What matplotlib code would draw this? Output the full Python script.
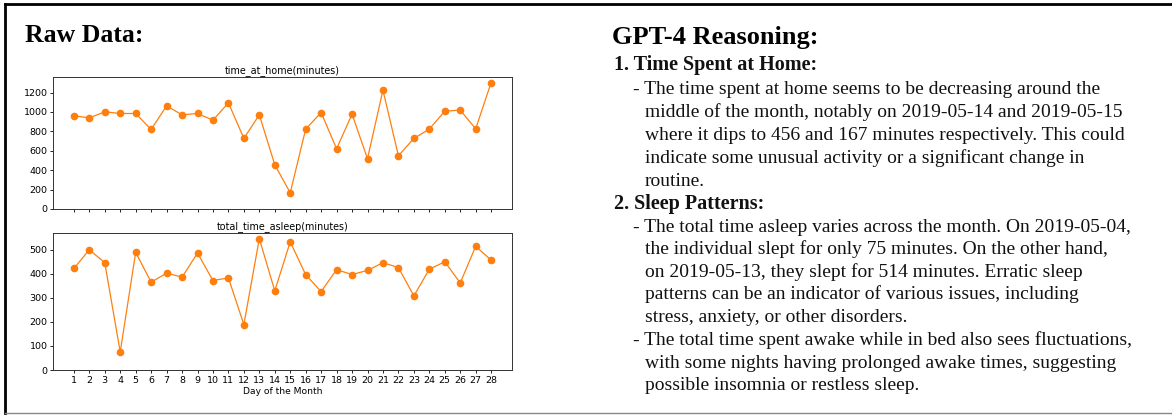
import numpy as np
import matplotlib
matplotlib.use("Agg")
from matplotlib import pyplot as plt
from matplotlib.lines import Line2D

# données
days = list(range(1, 29))
time_at_home = [960, 939, 1001, 984, 984, 819, 1063, 970, 984, 915,
                1094, 727, 970, 456, 167, 823, 994, 621, 977, 518,
                1224, 549, 727, 823, 1008, 1018, 826, 1303]
time_asleep = [422, 500, 446, 75, 489, 365, 403, 386, 486, 372,
               383, 189, 546, 329, 533, 396, 326, 417, 397, 414,
               446, 426, 308, 419, 450, 362, 514, 457]

header_left = "Raw Data:"
header_right = "GPT-4 Reasoning:"
# (texte, gras, indentation en px, baseline en px)
reasoning = [
    ("1. Time Spent at Home:", True, 614, 70),
    ("- The time spent at home seems to be decreasing around the", False, 633, 94),
    ("middle of the month, notably on 2019-05-14 and 2019-05-15", False, 645, 117),
    ("where it dips to 456 and 167 minutes respectively. This could", False, 645, 140),
    ("indicate some unusual activity or a significant change in", False, 645, 163),
    ("routine.", False, 645, 186),
    ("2. Sleep Patterns:", True, 614, 209),
    ("- The total time asleep varies across the month. On 2019-05-04,", False, 633, 232),
    ("the individual slept for only 75 minutes. On the other hand,", False, 645, 254),
    ("on 2019-05-13, they slept for 514 minutes. Erratic sleep", False, 645, 277),
    ("patterns can be an indicator of various issues, including", False, 645, 299),
    ("stress, anxiety, or other disorders.", False, 645, 322),
    ("- The total time spent awake while in bed also sees fluctuations,", False, 633, 345),
    ("with some nights having prolonged awake times, suggesting", False, 645, 368),
    ("possible insomnia or restless sleep.", False, 645, 390),
]

W, H = 1172, 417
fig = plt.figure(figsize=(W / 100, H / 100), dpi=100)
fig.patch.set_facecolor("white")

def px(x0, top, x1, bottom):
    return [x0 / W, (H - bottom) / H, (x1 - x0) / W, (bottom - top) / H]

orange = "#ff7f0e"
ax1 = fig.add_axes(px(53, 77, 512, 209))
ax2 = fig.add_axes(px(53, 233, 512, 370), sharex=ax1)

for ax, vals, title in [(ax1, time_at_home, "time_at_home(minutes)"),
                        (ax2, time_asleep, "total_time_asleep(minutes)")]:
    ax.plot(days, vals, "-o", color=orange, lw=0.9, ms=4.5)
    ax.set_ylim(bottom=0)
    ax.set_title(title, fontsize=6.9, pad=3)
    ax.tick_params(labelsize=6.8, length=2.5, width=0.6, pad=1.5)
    for s in ax.spines.values():
        s.set_linewidth(0.7)
        s.set_color("#333333")

ax1.set_yticks(np.arange(0, 1201, 200))
ax2.set_yticks(np.arange(0, 501, 100))
ax2.set_xticks(days)
plt.setp(ax1.get_xticklabels(), visible=False)
ax2.set_xlabel("Day of the Month", fontsize=6.6, labelpad=2)

serif = "Liberation Serif"
fig.text(25 / W, 1 - 42 / H, header_left, fontsize=18.5, fontweight="bold",
         family=serif, va="baseline")
fig.text(612 / W, 1 - 44 / H, header_right, fontsize=19, fontweight="bold",
         family=serif, va="baseline")
for txt, bold, x, y in reasoning:
    fig.text(x / W, 1 - y / H, txt, fontsize=14.5 if bold else 14,
             fontweight="bold" if bold else "normal",
             family=serif, va="baseline", color="#111111")

# cadre
fig.add_artist(Line2D([5 / W, 1], [1 - 4 / H, 1 - 4 / H], color="black", lw=2))
fig.add_artist(Line2D([5 / W, 5 / W], [1 - 4 / H, 1 - 413 / H], color="black", lw=2))
fig.add_artist(Line2D([5 / W, 1], [1 - 413 / H, 1 - 413 / H], color="#888888", lw=1))

fig.savefig("out.png", dpi=100)
